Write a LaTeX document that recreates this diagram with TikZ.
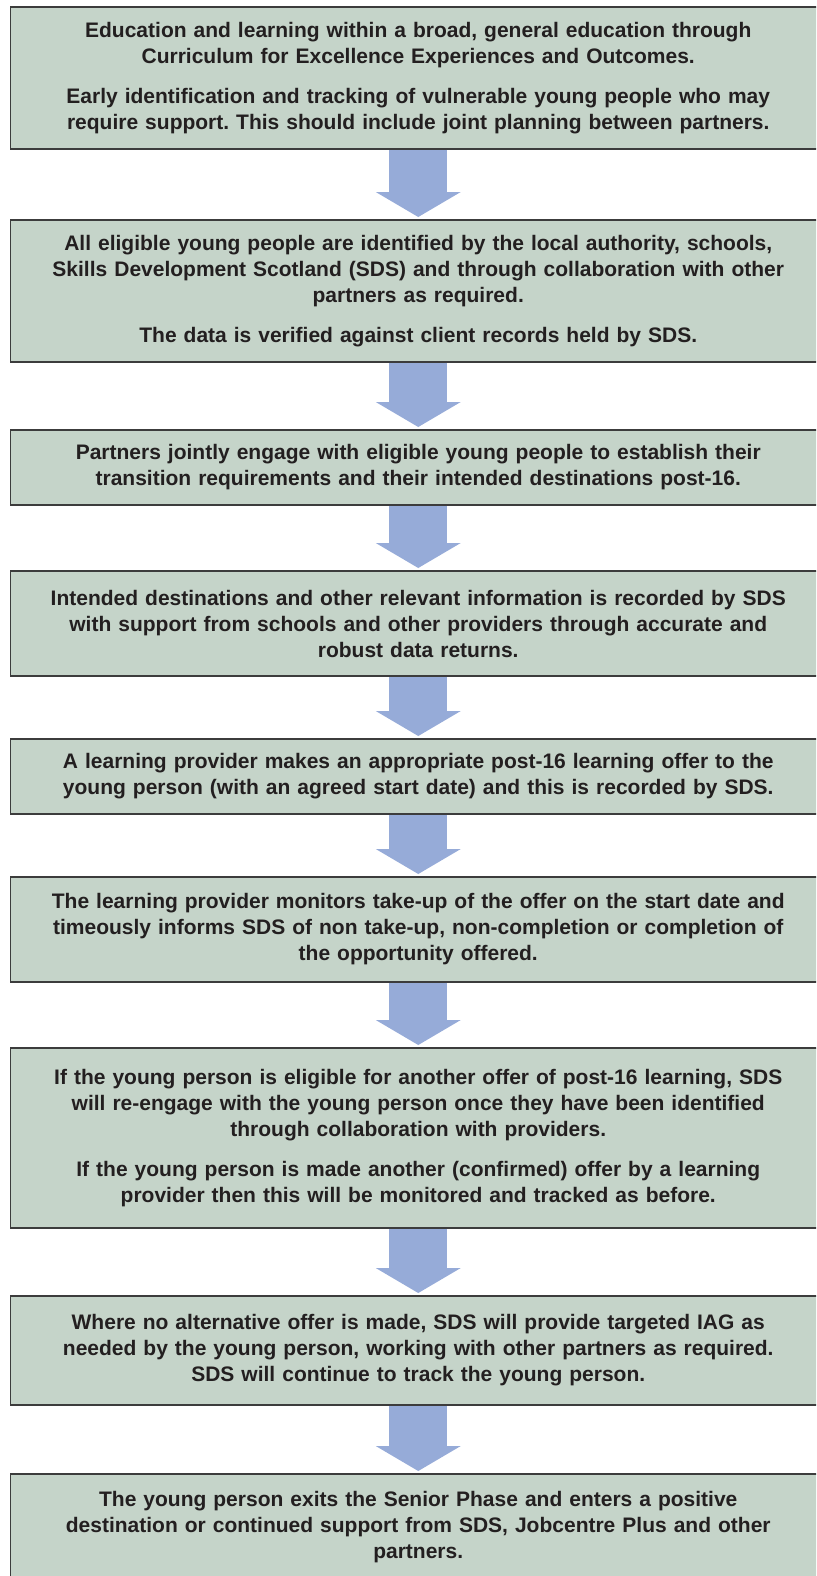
\documentclass[tikz,border=0pt]{standalone}
\usepackage{fontspec}
\setmainfont{Liberation Sans}
\usepackage{tikz}
\usetikzlibrary{arrows.meta, positioning}
\definecolor{sagegreen}{RGB}{197, 212, 201}
\definecolor{arrowblue}{RGB}{150, 171, 216}
\definecolor{edgegray}{RGB}{60, 60, 60}
\definecolor{textblack}{RGB}{35, 31, 32}
\frenchspacing

\begin{document}
\begin{tikzpicture}[
        box/.style={rectangle, draw=edgegray, line width=0.8pt, fill=sagegreen, text=textblack,
            text width=407.75pt, inner xsep=0pt, inner ysep=0pt, outer sep=0pt, align=center,
            font=\fontsize{10.5pt}{13pt}\selectfont\bfseries},
        arrow/.style={-{Triangle[width=42.5pt, length=12.5pt, line width=0pt]}, line width=29pt,
            arrowblue, shorten <=0.4pt, shorten >=1.5pt}
    ]
        \useasboundingbox (0,0) rectangle (408pt,-788pt);
        \clip (0,0) rectangle (408pt,-788pt);

        \node[box, minimum height=71pt, anchor=north west] (curriculum) at (5.25pt,-3.5pt)
            {Education and learning within a broad, general education through\\Curriculum for Excellence Experiences and Outcomes.\\[7pt]Early identification and tracking of vulnerable young people who may\\require support. This should include joint planning between partners.};
        \node[box, minimum height=71pt, below=35.5pt of curriculum] (identify)
            {All eligible young people are identified by the local authority, schools,\\Skills Development Scotland (SDS) and through collaboration with other\\partners as required.\\[7pt]The data is verified against client records held by SDS.};
        \node[box, minimum height=37.5pt, below=34pt of identify] (engage)
            {Partners jointly engage with eligible young people to establish their\\transition requirements and their intended destinations post-16.};
        \node[box, minimum height=52.5pt, below=33pt of engage] (record)
            {Intended destinations and other relevant information is recorded by SDS\\with support from schools and other providers through accurate and\\robust data returns.};
        \node[box, minimum height=37.5pt, below=31.5pt of record] (offer)
            {A learning provider makes an appropriate post-16 learning offer to the\\young person (with an agreed start date) and this is recorded by SDS.};
        \node[box, minimum height=52.5pt, below=31.5pt of offer] (monitor)
            {The learning provider monitors take-up of the offer on the start date and\\timeously informs SDS of non take-up, non-completion or completion of\\the opportunity offered.};
        \node[box, minimum height=90pt, below=33pt of monitor] (reengage)
            {If the young person is eligible for another offer of post-16 learning, SDS\\will re-engage with the young person once they have been identified\\through collaboration with providers.\\[7pt]If the young person is made another (confirmed) offer by a learning\\provider then this will be monitored and tracked as before.};
        \node[box, minimum height=54.5pt, below=34pt of reengage] (support)
            {Where no alternative offer is made, SDS will provide targeted IAG as\\needed by the young person, working with other partners as required.\\SDS will continue to track the young person.};
        \node[box, minimum height=53pt, below=34.5pt of support] (exit)
            {The young person exits the Senior Phase and enters a positive\\destination or continued support from SDS, Jobcentre Plus and other\\partners.};

        \draw[arrow] (curriculum) -- (identify);
        \draw[arrow] (identify) -- (engage);
        \draw[arrow] (engage) -- (record);
        \draw[arrow] (record) -- (offer);
        \draw[arrow] (offer) -- (monitor);
        \draw[arrow] (monitor) -- (reengage);
        \draw[arrow] (reengage) -- (support);
        \draw[arrow] (support) -- (exit);
    \end{tikzpicture}
\end{document}
